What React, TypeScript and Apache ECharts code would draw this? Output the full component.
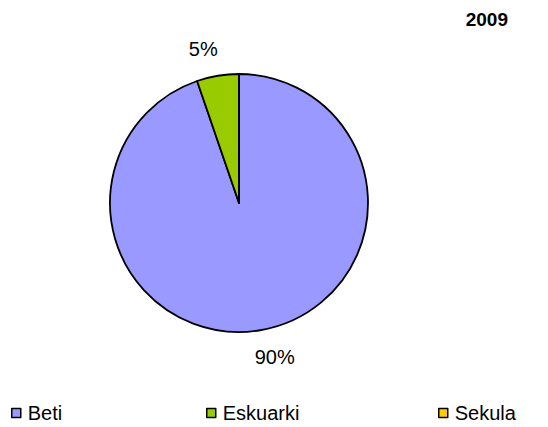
import React, { useEffect, useRef } from "react";
import * as echarts from "echarts";

const categories = ["Beti", "Eskuarki", "Sekula"];
const values = [90, 5, 0];
const colors = ["#9999FF", "#99CC00", "#FFCC00"];
const title = "2009";

export default function App() {
  const ref = useRef<HTMLDivElement>(null);
  useEffect(() => {
    if (!ref.current) return;
    const chart = echarts.init(ref.current, null, { renderer: "svg" });
    const font = "Liberation Sans, Arial, sans-serif";
    const legendLefts = [11, 206, 438];
    chart.setOption({
      animation: false,
      backgroundColor: "#fff",
      title: {
        text: title,
        right: 35,
        top: 5,
        textStyle: { fontFamily: font, fontSize: 19, fontWeight: "bold", color: "#000" },
      },
      legend: categories.map((c, i) => ({
        data: [c],
        left: legendLefts[i],
        top: 403,
        padding: 0,
        itemWidth: 9,
        itemHeight: 9,
        icon: "rect",
        itemStyle: { borderColor: "#000", borderWidth: 1.5 },
        textStyle: { fontFamily: font, fontSize: 20, color: "#000", padding: [0, 0, 0, 2] },
      })),
      series: [
        {
          type: "pie",
          center: [239, 203],
          radius: 129,
          startAngle: 90,
          clockwise: true,
          data: categories.map((c, i) => ({
            name: c,
            value: values[i],
            itemStyle: { color: colors[i] },
            label: { show: values[i] > 0 },
          })),
          itemStyle: { borderColor: "#000", borderWidth: 1.8 },
          label: {
            position: "outside",
            formatter: "{c}%",
            fontFamily: font,
            fontSize: 20,
            color: "#000",
            distanceToLabelLine: 10,
          },
          labelLine: { show: false, length: 27, length2: 0 },
          labelLayout: { align: "center" },
          emphasis: { disabled: true },
        },
      ],
    });
    return () => chart.dispose();
  }, []);
  return (
    <div
      ref={ref}
      style={{ position: "fixed", left: 0, top: 0, width: 548, height: 427 }}
    />
  );
}
